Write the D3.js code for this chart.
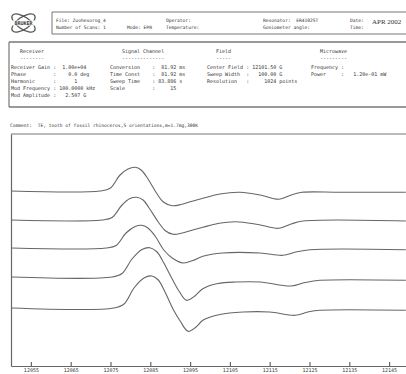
<!DOCTYPE html>
<html>
<head>
<meta charset="utf-8">
<script src="https://cdn.jsdelivr.net/npm/d3@7/dist/d3.min.js"></script>
<style>
    body { margin: 0; background: #fff; }
    svg text { font-family: "DejaVu Sans Mono", monospace; fill: #333; }
</style>
</head>
<body>
<svg id="chart"></svg>
<script>
// field axis tick labels (G)
const fieldTicks = [12055, 12065, 12075, 12085, 12095, 12105, 12115, 12125, 12135, 12145];

// baseline of each stacked spectrum, arbitrary intensity units
const traceOffsets = [175, 146, 118, 89, 58];

// spectra as [field (G), signal]
const spectrum1 = [
    [12050, 0], [12072.4, 0], [12074.9, 2.7], [12077.4, 16], [12079.4, 22], [12081.2, 23.7],
    [12082.7, 21], [12084.1, 14], [12086.6, -2.3], [12088.2, -10.7], [12090.5, -14.7],
    [12092.7, -13.5], [12095.0, -10.7], [12098.2, -7.3], [12102.5, -3], [12107.5, -1.3],
    [12112.6, -4], [12117.3, -8.3], [12120.4, -4], [12123.1, -1.3], [12132.7, -1.3], [12149.2, -1.3]
];
const spectrum2 = [
    [12050, 0], [12072.9, 0], [12075.4, 2.5], [12077.9, 15], [12079.9, 21.5], [12081.6, 22.7],
    [12083.2, 20], [12084.7, 12], [12087.0, -2], [12088.7, -10.5], [12090.7, -14.3],
    [12093.0, -13], [12095.2, -10.5], [12098.2, -7.3], [12102.0, -3.5], [12106.5, -1.7],
    [12112.1, -4.5], [12117.3, -8.3], [12120.4, -4], [12123.4, -1], [12149.2, -1]
];
const spectrum3 = [
    [12050, 0], [12073.9, 0], [12076.4, 2.5], [12078.9, 15], [12081.2, 21.5], [12082.8, 22.7],
    [12084.4, 20], [12086.2, 12], [12088.4, -2], [12090.5, -10], [12093.3, -15],
    [12095.7, -12.5], [12098.2, -8.3], [12103.2, -5], [12112.6, -5], [12118.3, -7.3],
    [12121.6, -4], [12125.1, -1.7], [12149.2, -1.7]
];
const spectrum4 = [
    [12050, 0], [12075.4, 0], [12077.9, 3.5], [12080.4, 18], [12082.9, 27.5], [12084.9, 29.3],
    [12086.7, 25], [12088.4, 14], [12090.5, -2], [12092.2, -14], [12094.1, -23.3],
    [12096.2, -19], [12098.2, -11.7], [12102.0, -6.5], [12106.5, -5], [12112.6, -5],
    [12120.4, -9], [12123.9, -5.5], [12127.6, -3.3], [12149.2, -3.3]
];
const spectrum5 = [
    [12050, 0], [12075.9, 0], [12078.4, 4], [12080.9, 20], [12083.4, 30], [12085.4, 32],
    [12087.0, 28], [12088.7, 16], [12090.7, -1], [12092.5, -13], [12094.5, -23.3],
    [12096.5, -19], [12098.2, -12.3], [12102.5, -6.5], [12108.3, -4], [12115.0, -4],
    [12121.4, -7.3], [12124.6, -4], [12127.6, -2.3], [12149.2, -2.3]
];
const spectra = [spectrum1, spectrum2, spectrum3, spectrum4, spectrum5];

// header and parameter texts
const headerFile = ["File: Zuohesorog_4", "Number of Scans: 1"];
const headerMode = ["", "Mode: EPR"];
const headerOperator = ["Operator:", "Temperature:"];
const headerResonator = ["Resonator:  ER4102ST", "Goniometer angle:"];
const headerDate = ["Date:", "Time:"];
const headerDateValue = "APR 2002";

const receiverTitle = ["Receiver", "--------"];
const receiverLines = [
    "Receiver Gain :  1.00e+04",
    "Phase         :    0.0 deg",
    "Harmonic      :      1",
    "Mod Frequency : 100.0000 kHz",
    "Mod Amplitude :   2.507 G"
];
const signalTitle = ["Signal Channel", "--------------"];
const signalLines = [
    "Conversion    :  81.92 ms",
    "Time Const    :  81.92 ms",
    "Sweep Time    : 83.886 s",
    "Scale         :     15"
];
const fieldTitle = ["Field", "-----"];
const fieldLines = [
    "Center Field : 12101.50 G",
    "Sweep Width  :   100.00 G",
    "Resolution   :     1024 points"
];
const microwaveTitle = ["Microwave", "---------"];
const microwaveLines = [
    "Frequency :",
    "Power     :   1.20e-01 mW"
];
const commentText = "Comment:  TE, tooth of fossil rhinoceros,5 orientations,m=1.7mg,300K";

window.Epr = window.Epr || {};

Epr.init = function() {
    Epr.setup.initConst();
    Epr.setup.initObjects();
    Epr.core.draw();
};

Epr.core = {
    draw: function() {
        Epr.core.drawLogo();
        Epr.core.drawHeader();
        Epr.core.drawParams();
        Epr.core.drawPlot();
    },

    drawLogo: function() {
        let g = Epr.svg.append('g').attr('transform', 'translate(23.5,23)');
        [-35, 35].forEach(function(a) {
            g.append('ellipse')
                .attr('rx', 13.5).attr('ry', 6)
                .attr('transform', 'rotate(' + a + ')')
                .attr('fill', 'none').attr('stroke', '#555').attr('stroke-width', 1.3);
        });
        g.append('rect').attr('x', -13).attr('y', -2.5).attr('width', 26).attr('height', 5).attr('fill', '#fff');
        g.append('text').attr('text-anchor', 'middle').attr('y', 1.8)
            .style('font-size', '5px').style('font-weight', 'bold').text('BRUKER');
    },

    drawHeader: function() {
        let svg = Epr.svg;
        // header box
        Epr.helpers.line(52, 12, 410, 12, 1);
        Epr.helpers.line(52, 34, 410, 34, 1);
        Epr.helpers.line(52, 12, 52, 34, 1);

        Epr.helpers.textBlock(headerFile, 56, 22, 7, 4.6);
        Epr.helpers.textBlock(headerMode, 127, 22, 7, 4.6);
        Epr.helpers.textBlock(headerOperator, 166, 22, 7, 4.6);
        Epr.helpers.textBlock(headerResonator, 263, 22, 7, 4.6);
        Epr.helpers.textBlock(headerDate, 350, 22, 7, 4.6);
        svg.append('text').attr('x', 372).attr('y', 24)
            .style('font-family', '"Liberation Serif", serif')
            .style('font-size', '7px').text(headerDateValue);
    },

    drawParams: function() {
        // parameter box
        Epr.helpers.line(9, 42, 410, 42, 1.4);
        Epr.helpers.line(9, 107, 410, 107, 1.4);
        Epr.helpers.line(9, 42, 9, 107, 1.2);

        Epr.helpers.textBlock(receiverTitle, 20, 53, 7, 5);
        Epr.helpers.textBlock(receiverLines, 11, 68.5, 7.2, 5);
        Epr.helpers.textBlock(signalTitle, 122, 53, 7, 5);
        Epr.helpers.textBlock(signalLines, 110, 68.5, 7.2, 5);
        Epr.helpers.textBlock(fieldTitle, 216, 53, 7, 5);
        Epr.helpers.textBlock(fieldLines, 207, 68.5, 7.2, 5);
        Epr.helpers.textBlock(microwaveTitle, 320, 53, 7, 5);
        Epr.helpers.textBlock(microwaveLines, 311, 68.5, 7.2, 5);

        Epr.helpers.textBlock([commentText], 10, 126.5, 7, 4.6);
    },

    drawPlot: function() {
        let svg = Epr.svg;

        // top frame line
        Epr.helpers.line(Epr.plotLeft, Epr.plotTop, 410, Epr.plotTop, 1.2);

        let xAxis = d3.axisBottom(Epr.xScale)
            .tickValues(fieldTicks)
            .tickFormat(d3.format('d'))
            .tickSizeInner(-4)
            .tickSizeOuter(0)
            .tickPadding(2);
        let gx = svg.append('g')
            .attr('transform', 'translate(0,' + Epr.plotBottom + ')')
            .call(xAxis);
        gx.selectAll('path, line').attr('stroke', '#666').attr('stroke-width', 1.2);
        gx.selectAll('text').attr('fill', '#444')
            .style('font-family', '"DejaVu Sans Mono", monospace').style('font-size', '5px');

        let yAxis = d3.axisLeft(Epr.yScale).tickValues([]).tickSizeOuter(0);
        let gy = svg.append('g')
            .attr('transform', 'translate(' + Epr.plotLeft + ',0)')
            .call(yAxis);
        gy.selectAll('path').attr('stroke', '#666').attr('stroke-width', 1.2);

        spectra.forEach(function(s, i) {
            let line = d3.line()
                .x(d => Epr.xScale(d[0]))
                .y(d => Epr.yScale(d[1] + traceOffsets[i]))
                .curve(d3.curveCatmullRom.alpha(0.5));
            svg.append('path')
                .datum(s)
                .attr('d', line)
                .attr('fill', 'none')
                .attr('stroke', '#666')
                .attr('stroke-width', 1.1);
        });
    }
};

Epr.helpers = {
    line: function(x1, y1, x2, y2, w) {
        return Epr.svg.append('line')
            .attr('x1', x1).attr('y1', y1).attr('x2', x2).attr('y2', y2)
            .attr('stroke', '#777').attr('stroke-width', w);
    },

    textBlock: function(lines, x, y, step, size) {
        lines.forEach(function(t, i) {
            Epr.svg.append('text')
                .attr('x', x).attr('y', y + i*step)
                .attr('xml:space', 'preserve')
                .style('white-space', 'pre')
                .style('font-size', size + 'px')
                .text(t);
        });
    }
};

Epr.setup = {
    initConst: function() {
        Epr.width = 406;
        Epr.height = 374;
        Epr.plotLeft = 11;
        Epr.plotTop = 134;
        Epr.plotBottom = 366;
    },

    initObjects: function() {
        Epr.svg = d3.select('#chart')
            .attr('width', Epr.width)
            .attr('height', Epr.height);

        Epr.xScale = d3.scaleLinear().domain([12050, 12150]).range([Epr.plotLeft, 409]);
        Epr.yScale = d3.scaleLinear().domain([0, 232]).range([Epr.plotBottom, Epr.plotTop]);
    }
};

Epr.init();
</script>
</body>
</html>
